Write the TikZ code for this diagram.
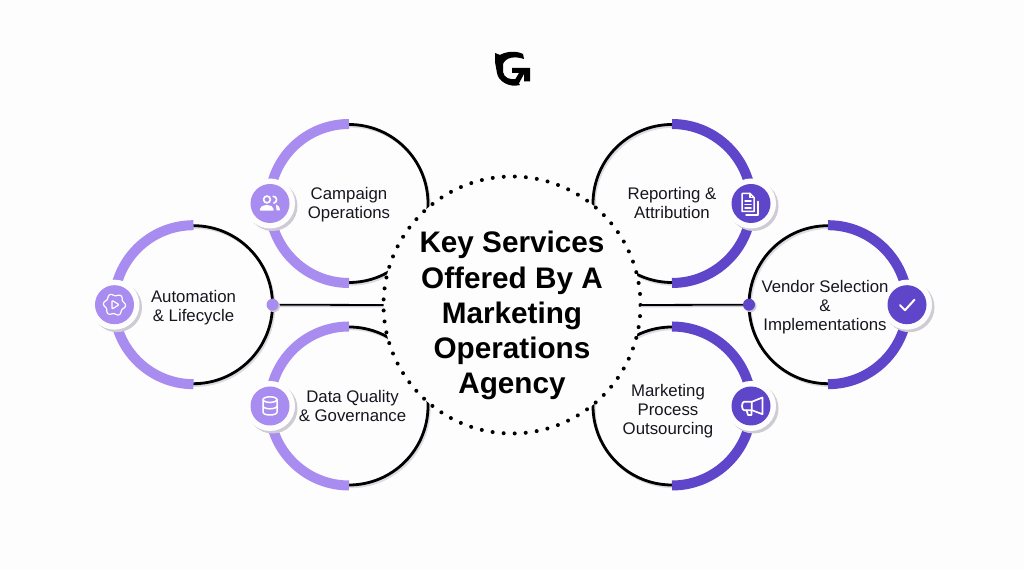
\documentclass[tikz,border=0pt]{standalone}
\usepackage{fontspec}
\setmainfont{Liberation Sans}
\usepackage{xcolor}
\usetikzlibrary{positioning,calc}
\definecolor{lilac}{HTML}{A88CF0}
\definecolor{indigo}{HTML}{5F45C9}
\definecolor{inkblack}{HTML}{16161E}
\definecolor{softgrey}{HTML}{CFCBD4}
\definecolor{paper}{HTML}{FEFDFE}
\tikzset{
ring/.style={circle,draw=black,line width=2.8pt,minimum size=158pt,inner sep=0pt,outer sep=0pt},
ringshade/.style={draw=softgrey!70,line width=2.4pt},
band/.style={line width=10pt},
hubring/.style={circle,fill=paper,draw=black,line width=4pt,line cap=round,dash pattern=on 0pt off 11.06pt,minimum size=257pt,inner sep=0pt,outer sep=0pt},
svclabel/.style={align=center,text=inkblack,inner sep=0pt,font=\fontsize{16.8}{19}\selectfont},
link/.style={draw=black,line width=1.8pt},
linkshade/.style={draw=softgrey,line width=1.6pt},
joint/.style={circle,minimum size=12pt,inner sep=0pt,outer sep=0pt},
diskshade/.style={circle,fill=softgrey,minimum size=50pt,inner sep=0pt},
diskwhite/.style={circle,fill=paper,minimum size=50pt,inner sep=0pt},
disk/.style={circle,minimum size=39pt,inner sep=0pt},
glyph/.style={draw=white,line width=1.5pt,line join=round,line cap=round},
}
\begin{document}
\begin{tikzpicture}[x=1pt,y=1pt]
\useasboundingbox[fill=paper] (0,0) rectangle (1024,569);
\foreach \n/\x/\y in {autom/193.5/264.3,camp/349/365.5,qual/349/163,repo/672/365.5,vend/828/264.3,proc/672/163}{
\draw[ringshade] (\x+1.5,\y-2) circle (79);
\node[ring] (\n) at (\x,\y) {};
}
\foreach \n in {autom,camp,qual}{\draw[band,lilac] ([yshift=0.5pt]\n.north) arc (90:270:79.5);}
\foreach \n in {vend,repo,proc}{\draw[band,indigo] ([yshift=0.5pt]\n.north) arc (90:-90:79.5);}
\node[hubring] (hub) at (512,264) {};
\node[align=center,inner sep=0pt,font=\fontsize{29.7}{35.1}\selectfont\bfseries,text=black] (hubtext) at (512,253.5) {Key Services\\Offered By A\\Marketing\\Operations\\Agency};
\draw[linkshade] ([yshift=-1.6pt]autom.east)--([yshift=-1.6pt]hub.west);
\draw[linkshade] ([yshift=-1.6pt]vend.west)--([yshift=-1.6pt]hub.east);
\draw[link] (autom.east)--(hub.west);
\draw[link] (vend.west)--(hub.east);
\fill[softgrey] ([shift={(1.5,-1.5)}]autom.east) circle (6);
\fill[softgrey] ([shift={(1.5,-1.5)}]vend.west) circle (6);
\node[joint,fill=lilac] (autojoint) at (autom.east) {};
\node[joint,fill=indigo] (vendjoint) at (vend.west) {};
\foreach \n/\s/\c in {autom/west/lilac,camp/west/lilac,qual/west/lilac,repo/east/indigo,vend/east/indigo,proc/east/indigo}{
\node[diskshade] at ([shift={(2.5,-2.5)}]\n.\s) {};
\node[diskwhite] at (\n.\s) {};
\node[disk,fill=\c] (\n disk) at (\n.\s) {};
}
\node[svclabel,yshift=-2.6pt] (autotext) at (autom) {Automation\\\& Lifecycle};
\node[svclabel,yshift=-1.5pt] (camptext) at (camp) {Campaign\\Operations};
\node[svclabel,xshift=3.5pt] (qualtext) at (qual) {Data Quality\\\& Governance};
\node[svclabel] (repotext) at (repo) {Reporting \&\\Attribution};
\node[svclabel,xshift=-3pt,yshift=-2pt] (vendtext) at (vend) {Vendor Selection\\\&\\Implementations};
\node[svclabel,xshift=-4pt,yshift=-5pt] (proctext) at (proc) {Marketing\\Process\\Outsourcing};
\begin{scope}[shift={(automdisk.center)},glyph]
\draw[line width=1.2pt] plot[domain=0:360,samples=61] ({(10+1.1*cos(6*\x+30))*cos(\x)},{(10+1.1*cos(6*\x+30))*sin(\x)})--cycle;
\draw[rounded corners=1pt,line width=1.2pt] (-2.6,4.4)--(4.6,0)--(-2.6,-4.4)--cycle;
\end{scope}
\begin{scope}[shift={(campdisk.center)},glyph,line width=1.7pt]
\draw (-3,4) circle (3.4);
\draw[fill=white] (-9.5,-6.2) .. controls (-9.5,-1) and (3,-1) .. (3,-6.2)--cycle;
\draw (3.2,7.2) arc (90:-80:3.4);
\fill[white] (6,-1) .. controls (9,-2) and (10,-4) .. (10,-6.8)--(6.5,-6.8)--cycle;
\end{scope}
\begin{scope}[shift={(qualdisk.center)},glyph]
\draw (0,6.4) ellipse (7 and 2.8);
\draw (-7,6.4)--(-7,-6.2) arc (180:360:7 and 2.8)--(7,6.4);
\draw (-7,0) arc (180:360:7 and 2.8);
\end{scope}
\begin{scope}[shift={(repodisk.center)},glyph]
\draw (-9,10)--(-1,10)--(3,6)--(3,-8)--(-9,-8)--cycle;
\draw (-1,10)--(-1,6)--(3,6);
\draw (-6,2.5)--(0,2.5);
\draw (-6,-1)--(0,-1);
\draw (-6,-4.5)--(0,-4.5);
\draw (7,2)--(7,-11.5)--(-5,-11.5);
\end{scope}
\begin{scope}[shift={(venddisk.center)},glyph,line width=2pt]
\draw (-7,-0.5)--(-2,-5.5)--(7.5,5);
\end{scope}
\begin{scope}[shift={(procdisk.center)},glyph,line width=1.7pt]
\draw (0.8,4.2)--(-7,4.2) arc (90:270:2 and 4.2)--(0.8,-4.2)--cycle;
\draw (0.8,4.2)--(11.5,8.5)--(11.5,-8.2)--(0.8,-4.2);
\draw (-4.5,-4.2)--(-3,-9)--(0.5,-9)--(0.5,-4.2);
\end{scope}
\node[inner sep=0pt] (logo) at (513,499) {};
\begin{scope}[shift={(logo.center)}]
\fill[black] (-18,17)--(-13,15) .. controls (-8,18) and (2,20) .. (10,16)--(11,11) .. controls (2,14) and (-7,13) .. (-10,6)--(-10,-2) .. controls (-9,-8) and (-3,-10) .. (3,-9)--(7,-15) .. controls (-4,-18) and (-15,-11) .. (-16,-3)--(-18,8)--cycle;
\fill[black] (-1,2)--(17,2)--(17,-11.5)--(11,-11.5)--(11,-4)--(5,-15)--(0,-13)--(6,-3)--(-1,-3)--cycle;
\end{scope}
\end{tikzpicture}
\end{document}
